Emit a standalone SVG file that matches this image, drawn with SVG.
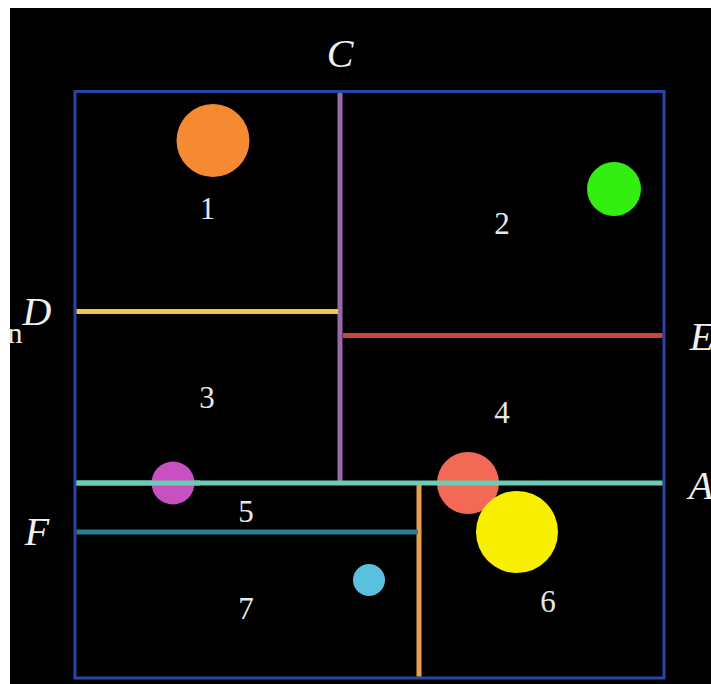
<svg xmlns="http://www.w3.org/2000/svg" width="711" height="684" viewBox="0 0 711 684">
<style>
.num{font-family:"Liberation Serif","Times New Roman",serif;font-size:31px;fill:#e8e8e8;text-anchor:middle}
.lab{font-family:"Liberation Serif","Times New Roman",serif;font-style:italic;font-size:40px;fill:#f0f0f0;text-anchor:middle}
.ln{stroke-width:5;fill:none;stroke-linecap:butt}
</style>
<rect x="0" y="0" width="711" height="684" fill="#ffffff"/>
<rect x="10" y="8" width="701" height="676" fill="#000000"/>
<g id="frame"><rect x="75" y="91.5" width="589" height="586.5" fill="none" stroke="#2646a8" stroke-width="3"/></g>
<g id="connectors">
<line class="ln" x1="340" y1="93" x2="340" y2="481" stroke="#9a6aa8"/>
<line class="ln" x1="76.5" y1="311.5" x2="338" y2="311.5" stroke="#f0c84a"/>
<line class="ln" x1="343" y1="335.5" x2="662.5" y2="335.5" stroke="#c8483a"/>
<line class="ln" x1="419" y1="484" x2="419" y2="676.5" stroke="#e8a050"/>
</g>
<g id="circles">
<circle id="c-orange" cx="213" cy="140.5" r="36.5" fill="#f58a32"/>
<circle id="c-green" cx="614" cy="189" r="27" fill="#33ee11"/>
<circle id="c-salmon" cx="468" cy="483" r="31" fill="#f26a55"/>
<circle id="c-yellow" cx="517" cy="532" r="41" fill="#f8f000"/>
<circle id="c-blue" cx="369" cy="580" r="16" fill="#5bbfde"/>
</g>
<g id="lines2">
<line class="ln" x1="76.5" y1="483" x2="662.5" y2="483" stroke="#6ecbb6"/>
<circle id="c-magenta" cx="173" cy="483" r="21.5" fill="#c850c0"/>
<line class="ln" x1="76.5" y1="483" x2="200" y2="483" stroke="#6ecbb6"/>
<line class="ln" x1="76.5" y1="532" x2="418" y2="532" stroke="#2a7f8f"/>
</g>
<g id="region-labels">
<text class="num" x="207.5" y="219">1</text>
<text class="num" x="502" y="234">2</text>
<text class="num" x="207" y="408">3</text>
<text class="num" x="502" y="423">4</text>
<text class="num" x="246" y="522">5</text>
<text class="num" x="548" y="612">6</text>
<text class="num" x="246" y="619">7</text>
</g>
<g id="line-labels">
<text class="lab" x="340" y="67">C</text>
<text class="lab" x="37" y="325">D</text>
<text class="lab" x="702" y="350">E</text>
<text class="lab" x="701" y="499">A</text>
<text class="lab" x="37" y="545">F</text>
<text x="15" y="343" font-family="Liberation Serif, serif" font-size="30" fill="#e8e8e8" text-anchor="middle">n</text>
</g>
</svg>
